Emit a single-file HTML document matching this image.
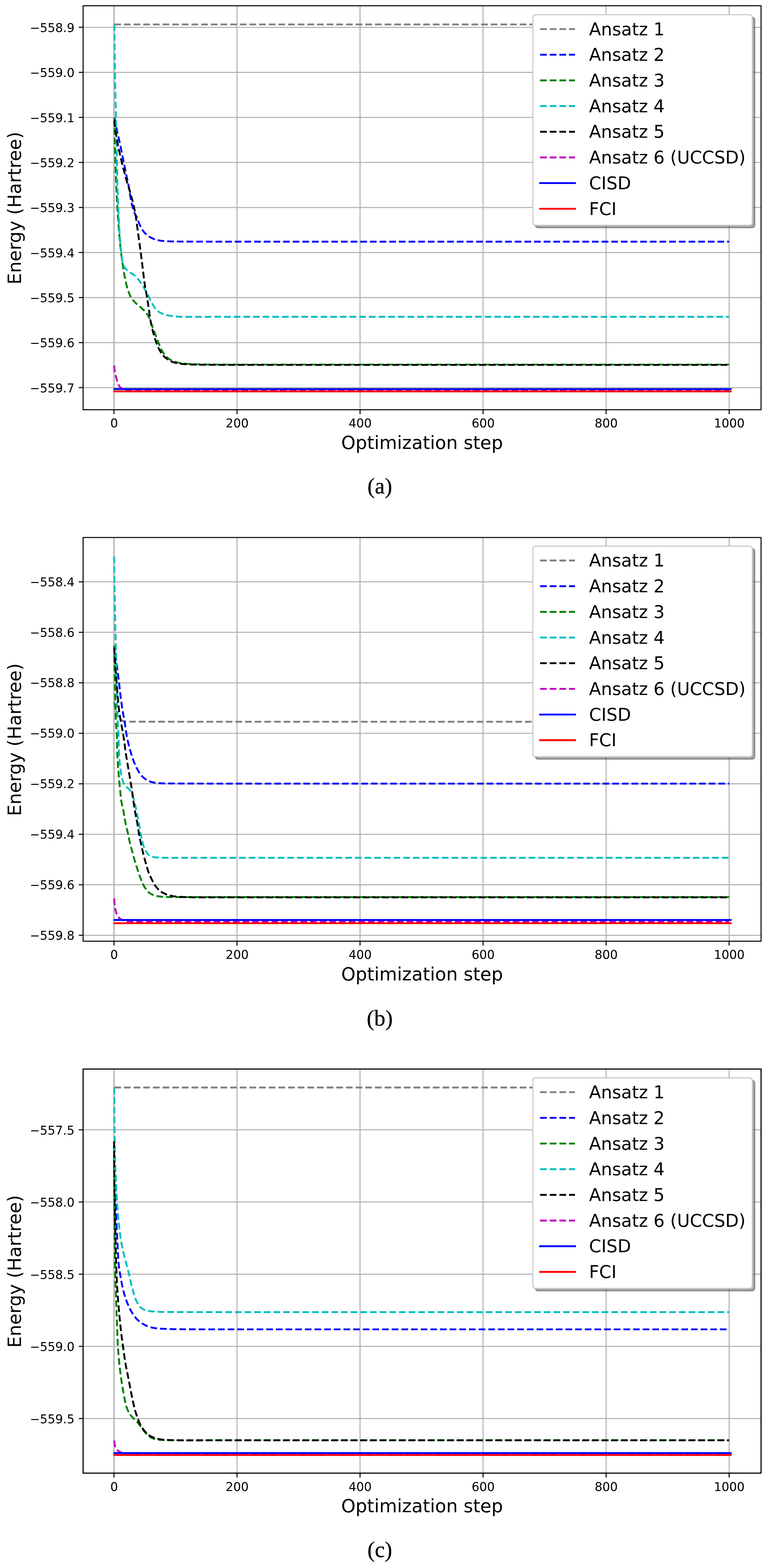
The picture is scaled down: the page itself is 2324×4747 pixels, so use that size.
<!DOCTYPE html>
<html lang="en">
<head>
<meta charset="utf-8">
<title>VQE optimization: energy vs optimization step</title>
<style>
html,body{margin:0;padding:0;background:#fff;}
body{width:2324px;height:4747px;}
svg{display:block;}
text{white-space:pre;}
</style>
</head>
<body>
<svg width="2324" height="4747" viewBox="0 0 2324 4747" role="img" aria-label="Energy versus optimization step for six ansatzes, CISD and FCI, panels (a), (b), (c)">
<rect width="2324" height="4747" fill="#fff"/>
<defs>
<clipPath id="c0"><rect x="251.45" y="17.45" width="2051.55" height="1223.02"/></clipPath>
<clipPath id="c1"><rect x="251.45" y="1627.24" width="2051.55" height="1222.16"/></clipPath>
<clipPath id="c2"><rect x="251.45" y="3236.45" width="2051.55" height="1223.35"/></clipPath>
</defs>
<g id="chart0">
<g stroke="#b0b0b0" stroke-width="3.05" fill="none">
<line x1="344.9" y1="17.45" x2="344.9" y2="1240.47" stroke-width="3.9"/>
<line x1="717.2" y1="17.45" x2="717.2" y2="1240.47"/>
<line x1="1089.5" y1="17.45" x2="1089.5" y2="1240.47"/>
<line x1="1461.8" y1="17.45" x2="1461.8" y2="1240.47"/>
<line x1="1834.1" y1="17.45" x2="1834.1" y2="1240.47"/>
<line x1="2206.4" y1="17.45" x2="2206.4" y2="1240.47"/>
<line x1="251.45" y1="82.75" x2="2303" y2="82.75"/>
<line x1="251.45" y1="219.1" x2="2303" y2="219.1"/>
<line x1="251.45" y1="355.45" x2="2303" y2="355.45"/>
<line x1="251.45" y1="491.8" x2="2303" y2="491.8"/>
<line x1="251.45" y1="628.15" x2="2303" y2="628.15"/>
<line x1="251.45" y1="764.5" x2="2303" y2="764.5"/>
<line x1="251.45" y1="900.85" x2="2303" y2="900.85"/>
<line x1="251.45" y1="1037.2" x2="2303" y2="1037.2"/>
<line x1="251.45" y1="1173.55" x2="2303" y2="1173.55"/>
</g>
<g clip-path="url(#c0)" fill="none" stroke-width="5.65" stroke-linejoin="round">
<path d="M345.9 74L2206.3 74" stroke="#808080" stroke-dasharray="20.2 9.01" stroke-dashoffset="29.14"/>
<path d="M346 355.6C346.89 358.68 347.75 360.88 348.66 364.84C350.25 371.72 351.75 384.02 353.63 393.42C355.48 402.65 357.8 411.53 359.84 420.75C361.94 430.16 364.09 439.78 366.06 449.32C368.02 458.83 369.81 468.83 371.65 477.89C373.32 486.14 375.04 493.72 376.61 501.49C378.14 509.04 379.54 516.87 380.96 523.85C382.22 530.02 383.45 535.45 384.69 541.24C385.93 547.04 387.28 552.83 388.42 558.63C389.55 564.42 390.58 570.33 391.52 576.02C392.43 581.5 393.06 586.44 394.01 592.17C395.09 598.75 396.28 606.75 397.73 613.29C399.02 619.07 400.5 624.19 402.08 629.44C403.61 634.53 405.01 639.47 407.05 644.35C409.14 649.34 412.15 653.65 414.54 659.03C417.32 665.26 419.21 672.78 422.47 679.65C425.99 687.05 430.12 695.6 435.16 701.86C439.77 707.57 445.47 712.34 451.02 716.13C456.09 719.58 461.23 721.97 466.88 724.06C472.83 726.26 478.88 727.71 485.92 728.82C494.42 730.15 505.22 730.33 514.46 730.72C523.17 731.09 528.25 731.07 539.84 731.2C565.04 731.48 619.84 731.53 659.84 731.6C699.84 731.67 739.84 731.6 779.84 731.6C819.84 731.6 859.84 731.6 899.84 731.6C939.84 731.6 979.84 731.6 1019.84 731.6C1059.84 731.6 1099.84 731.6 1139.84 731.6C1179.84 731.6 1219.84 731.6 1259.84 731.6C1299.84 731.6 1339.84 731.6 1379.84 731.6C1419.84 731.6 1459.84 731.6 1499.84 731.6C1539.84 731.6 1579.84 731.6 1619.84 731.6C1659.84 731.6 1699.84 731.6 1739.84 731.6C1779.84 731.6 1819.84 731.6 1859.84 731.6C1899.84 731.6 1939.84 731.6 1979.84 731.6C2019.84 731.6 2061.04 731.6 2099.84 731.6C2136.39 731.6 2170.81 731.6 2206.3 731.6" stroke="#0000ff" stroke-dasharray="20.2 9.01" stroke-dashoffset="28.72"/>
<path d="M346 355.6C346.14 366.96 346.24 378.07 346.43 389.69C346.63 401.84 346.84 414.54 347.17 426.96C347.51 439.38 348 451.8 348.42 464.22C348.83 476.65 349.24 489.07 349.66 501.49C350.07 513.91 350.45 526.34 350.9 538.76C351.36 551.18 351.83 563.6 352.39 576.02C352.95 588.45 353.6 601.44 354.25 613.29C354.85 624.12 355.3 631.98 356.12 644.35C357.33 662.69 359.25 691.72 361.06 712.67C362.6 730.56 364.23 747 366.02 762.36C367.58 775.69 369.13 787.22 370.99 799.63C372.86 812.06 374.73 824.51 377.2 836.89C379.69 849.36 382.42 863.11 385.9 874.16C388.81 883.4 391.64 891.72 395.84 899.01C399.66 905.63 404.38 911.05 409.5 916.4C414.71 921.84 421.41 926.23 426.89 931.3C432.15 936.17 437.72 941.07 441.8 946.21C445.41 950.76 447.82 954.74 450.54 960.27C454.02 967.35 456.88 977.19 460.06 985.65C463.23 994.11 466.4 1002.56 469.57 1011.02C472.74 1019.48 475.82 1028.26 479.09 1036.4C482.17 1044.09 484.84 1051.65 488.6 1058.6C492.27 1065.37 496.08 1072.12 501.29 1077.64C506.61 1083.26 513.16 1088.35 520.33 1091.91C527.87 1095.67 536.69 1097.52 545.7 1099.21C555.6 1101.06 566.36 1101.38 577.42 1102.06C589.52 1102.81 599.25 1103.03 615.49 1103.33C644.31 1103.86 695.49 1103.68 735.49 1103.75C775.49 1103.82 815.49 1103.75 855.49 1103.75C895.49 1103.75 935.49 1103.75 975.49 1103.75C1015.49 1103.75 1055.49 1103.75 1095.49 1103.75C1135.49 1103.75 1175.49 1103.75 1215.49 1103.75C1255.49 1103.75 1295.49 1103.75 1335.49 1103.75C1375.49 1103.75 1415.49 1103.75 1455.49 1103.75C1495.49 1103.75 1535.49 1103.75 1575.49 1103.75C1615.49 1103.75 1655.49 1103.75 1695.49 1103.75C1735.49 1103.75 1775.49 1103.75 1815.49 1103.75C1855.49 1103.75 1895.49 1103.75 1935.49 1103.75C1975.49 1103.75 2015.49 1103.75 2055.49 1103.75C2095.49 1103.75 2148.58 1103.75 2175.49 1103.75C2189.12 1103.75 2196.03 1103.75 2206.3 1103.75" stroke="#008000" stroke-dasharray="20.2 9.01" stroke-dashoffset="26.62"/>
<path d="M346 73.6C346.53 115.73 346.87 156.79 347.6 200C348.36 245.48 350 316.68 350.53 340C350.7 347.77 350.77 349.34 350.9 355.53C351.09 364.7 351.28 378.05 351.52 389.69C351.77 401.84 352.08 414.53 352.39 426.96C352.7 439.38 353.07 451.8 353.39 464.22C353.7 476.65 354.01 489.07 354.25 501.49C354.5 513.91 354.61 526.34 354.88 538.76C355.14 551.18 355.5 563.6 355.87 576.02C356.24 588.45 356.63 601.44 357.11 613.29C357.55 624.12 357.97 631.98 358.6 644.35C359.54 662.69 360.79 691.72 362.3 712.67C363.59 730.56 365.33 748.65 366.77 762.36C367.79 772.07 368.24 779.71 369.75 787.2C371.04 793.57 372.28 799.46 374.72 804.6C376.96 809.29 379.83 813.37 383.42 817.02C387.2 820.87 392.53 823.64 397.08 826.96C401.64 830.27 406.52 832.94 410.75 836.89C415.27 841.13 419.29 846.51 423.17 851.8C427.17 857.26 430.8 863.35 434.35 869.19C437.84 874.94 440.88 880.22 444.29 886.58C448.3 894.08 452.21 903.23 456.71 911.43C461.3 919.8 466.29 930.18 471.61 936.27C475.56 940.79 479.5 943.53 484.04 946.21C488.61 948.92 493.53 950.74 498.94 952.42C505.01 954.31 511.97 955.62 518.82 956.65C526.02 957.73 532.77 958.2 541.18 958.63C552.02 959.19 562.49 959.03 578.45 959.13C607.08 959.32 658.45 959.11 698.45 959.1C738.45 959.09 778.45 959.1 818.45 959.1C858.45 959.1 898.45 959.1 938.45 959.1C978.45 959.1 1018.45 959.1 1058.45 959.1C1098.45 959.1 1138.45 959.1 1178.45 959.1C1218.45 959.1 1258.45 959.1 1298.45 959.1C1338.45 959.1 1378.45 959.1 1418.45 959.1C1458.45 959.1 1498.45 959.1 1538.45 959.1C1578.45 959.1 1618.45 959.1 1658.45 959.1C1698.45 959.1 1738.45 959.1 1778.45 959.1C1818.45 959.1 1858.45 959.1 1898.45 959.1C1938.45 959.1 1978.45 959.1 2018.45 959.1C2058.45 959.1 2104.11 959.1 2138.45 959.1C2164.27 959.1 2183.68 959.1 2206.3 959.1" stroke="#00bfbf" stroke-dasharray="20.2 9.01" stroke-dashoffset="28.94"/>
<path d="M346 363.6C346.47 370.23 346.65 376.98 347.42 383.48C348.17 389.81 349.49 395.9 350.53 402.11C351.56 408.32 352.6 414.53 353.63 420.75C354.67 426.96 355.53 433.08 356.74 439.38C358 445.91 359.56 452.54 361.09 459.25C362.66 466.19 364.4 473.33 366.06 480.37C367.71 487.41 369.32 494.68 371.02 501.49C372.64 507.91 374.34 513.91 375.99 520.12C377.65 526.34 379.28 532.66 380.96 538.76C382.59 544.66 384.18 550.37 385.93 556.15C387.7 561.96 389.86 567.72 391.52 573.54C393.17 579.31 394.29 585.26 395.87 590.93C397.4 596.44 399.32 601.48 400.84 607.08C402.45 613.04 403.84 619.49 405.19 625.71C406.53 631.91 407.78 638.13 408.91 644.35C410.04 650.55 410.83 655.27 411.99 662.98C413.87 675.55 416.42 696.11 418.7 712.67C420.97 729.24 423.46 745.79 425.65 762.36C427.85 778.92 429.79 795.49 431.86 812.05C433.93 828.61 435.65 845.8 438.07 861.74C440.34 876.63 443.68 892.07 445.78 904.76C447.44 914.78 448.6 922.6 449.9 931.72C451.25 941.09 452.23 951.05 453.71 960.27C455.11 969 456.63 977.21 458.47 985.65C460.32 994.13 462.45 1002.6 464.81 1011.02C467.2 1019.52 469.75 1028.3 472.74 1036.4C475.6 1044.12 478.49 1051.65 482.26 1058.6C485.93 1065.37 490.01 1072.25 494.95 1077.64C499.6 1082.71 505.29 1086.99 510.81 1090.33C515.9 1093.41 520.64 1095.48 526.67 1097.3C534.02 1099.53 543.08 1100.7 552.05 1101.74C562 1102.91 573.19 1103.22 583.77 1103.65C594.34 1104.07 601.52 1104.12 615.49 1104.28C642.65 1104.6 695.49 1104.63 735.49 1104.7C775.49 1104.77 815.49 1104.7 855.49 1104.7C895.49 1104.7 935.49 1104.7 975.49 1104.7C1015.49 1104.7 1055.49 1104.7 1095.49 1104.7C1135.49 1104.7 1175.49 1104.7 1215.49 1104.7C1255.49 1104.7 1295.49 1104.7 1335.49 1104.7C1375.49 1104.7 1415.49 1104.7 1455.49 1104.7C1495.49 1104.7 1535.49 1104.7 1575.49 1104.7C1615.49 1104.7 1655.49 1104.7 1695.49 1104.7C1735.49 1104.7 1775.49 1104.7 1815.49 1104.7C1855.49 1104.7 1895.49 1104.7 1935.49 1104.7C1975.49 1104.7 2015.49 1104.7 2055.49 1104.7C2095.49 1104.7 2148.58 1104.7 2175.49 1104.7C2189.12 1104.7 2196.03 1104.7 2206.3 1104.7" stroke="#000000" stroke-dasharray="20.2 9.01" stroke-dashoffset="28.5"/>
<path d="M345.28 1105.23C345.6 1108.4 345.86 1111.54 346.23 1114.74C346.61 1118.04 347.02 1121.45 347.56 1124.74C348.1 1127.96 348.75 1131.05 349.47 1134.25C350.2 1137.55 351.08 1141 351.94 1144.24C352.76 1147.34 353.59 1150.32 354.51 1153.29C355.41 1156.19 356.21 1159.17 357.36 1161.85C358.45 1164.39 359.75 1166.85 361.17 1168.99C362.47 1170.94 363.8 1172.72 365.45 1174.22C367.12 1175.74 369.04 1177.02 371.16 1178.03C373.45 1179.12 376.07 1179.85 378.78 1180.41C381.74 1181.01 383.33 1181.11 388.29 1181.36C405.86 1182.25 468.29 1181.48 508.29 1181.5C548.29 1181.52 588.29 1181.5 628.29 1181.5C668.29 1181.5 708.29 1181.5 748.29 1181.5C788.29 1181.5 828.29 1181.5 868.29 1181.5C908.29 1181.5 948.29 1181.5 988.29 1181.5C1028.29 1181.5 1068.29 1181.5 1108.29 1181.5C1148.29 1181.5 1188.29 1181.5 1228.29 1181.5C1268.29 1181.5 1308.29 1181.5 1348.29 1181.5C1388.29 1181.5 1428.29 1181.5 1468.29 1181.5C1508.29 1181.5 1548.29 1181.5 1588.29 1181.5C1628.29 1181.5 1668.29 1181.5 1708.29 1181.5C1748.29 1181.5 1788.29 1181.5 1828.29 1181.5C1868.29 1181.5 1908.29 1181.5 1948.29 1181.5C1988.29 1181.5 2028.29 1181.5 2068.29 1181.5C2108.29 1181.5 2165.96 1181.5 2188.29 1181.5C2196.95 1181.5 2200.3 1181.5 2206.3 1181.5" stroke="#bf00bf" stroke-dasharray="20.2 9.01" stroke-dashoffset="27.88"/>
<path d="M343.1 1178L2214 1178" stroke="#0000ff" stroke-linecap="butt"/>
<path d="M343.1 1185L2214 1185" stroke="#ff0000" stroke-linecap="butt"/>
</g>
<g stroke="#000" stroke-width="3.05" fill="none">
<line x1="344.9" y1="1240.47" x2="344.9" y2="1253.67"/>
<line x1="717.2" y1="1240.47" x2="717.2" y2="1253.67"/>
<line x1="1089.5" y1="1240.47" x2="1089.5" y2="1253.67"/>
<line x1="1461.8" y1="1240.47" x2="1461.8" y2="1253.67"/>
<line x1="1834.1" y1="1240.47" x2="1834.1" y2="1253.67"/>
<line x1="2206.4" y1="1240.47" x2="2206.4" y2="1253.67"/>
<line x1="238.25" y1="82.75" x2="251.45" y2="82.75"/>
<line x1="238.25" y1="219.1" x2="251.45" y2="219.1"/>
<line x1="238.25" y1="355.45" x2="251.45" y2="355.45"/>
<line x1="238.25" y1="491.8" x2="251.45" y2="491.8"/>
<line x1="238.25" y1="628.15" x2="251.45" y2="628.15"/>
<line x1="238.25" y1="764.5" x2="251.45" y2="764.5"/>
<line x1="238.25" y1="900.85" x2="251.45" y2="900.85"/>
<line x1="238.25" y1="1037.2" x2="251.45" y2="1037.2"/>
<line x1="238.25" y1="1173.55" x2="251.45" y2="1173.55"/>
<rect x="251.45" y="17.45" width="2051.55" height="1223.02" stroke-linejoin="miter" stroke-width="3.05"/>
</g>
<g font-family="'DejaVu Sans','Liberation Sans',sans-serif" font-size="36.6" fill="#000">
<text x="345.3" y="1294.47" text-anchor="middle">0</text>
<text x="717.6" y="1294.47" text-anchor="middle">200</text>
<text x="1089.9" y="1294.47" text-anchor="middle">400</text>
<text x="1462.2" y="1294.47" text-anchor="middle">600</text>
<text x="1834.5" y="1294.47" text-anchor="middle">800</text>
<text x="2206.8" y="1294.47" text-anchor="middle">1000</text>
<text x="225.5" y="96.85" text-anchor="end">−558.9</text>
<text x="225.5" y="233.2" text-anchor="end">−559.0</text>
<text x="225.5" y="369.55" text-anchor="end">−559.1</text>
<text x="225.5" y="505.9" text-anchor="end">−559.2</text>
<text x="225.5" y="642.25" text-anchor="end">−559.3</text>
<text x="225.5" y="778.6" text-anchor="end">−559.4</text>
<text x="225.5" y="914.95" text-anchor="end">−559.5</text>
<text x="225.5" y="1051.3" text-anchor="end">−559.6</text>
<text x="225.5" y="1187.65" text-anchor="end">−559.7</text>
</g>
<g font-family="'DejaVu Sans','Liberation Sans',sans-serif" font-size="55.15" fill="#000" text-anchor="middle">
<text x="1277.22" y="1358.77">Optimization step</text>
<text transform="translate(62.8 629.96) rotate(-90)">Energy (Hartree)</text>
</g>
<g>
<path d="M1629.7 51.9L2274.1 51.9Q2283.9 51.9 2283.9 61.7L2283.9 679.5Q2283.9 689.3 2274.1 689.3L1629.7 689.3Q1619.9 689.3 1619.9 679.5L1619.9 61.7Q1619.9 51.9 1629.7 51.9Z" fill="#4d4d4d" fill-opacity="0.5" stroke="#4d4d4d" stroke-opacity="0.5" stroke-width="3.68"/>
<path d="M1622.3 44.5L2266.7 44.5Q2276.5 44.5 2276.5 54.3L2276.5 672.1Q2276.5 681.9 2266.7 681.9L1622.3 681.9Q1612.5 681.9 1612.5 672.1L1612.5 54.3Q1612.5 44.5 1622.3 44.5Z" fill="#fff" stroke="#cccccc" stroke-width="3.5"/>
<line x1="1634.4" y1="87.96" x2="1740" y2="87.96" stroke="#808080" stroke-width="5.65" stroke-dasharray="20.2 9.01"/>
<text x="1782.6" y="106.51" font-family="'DejaVu Sans','Liberation Sans',sans-serif" font-size="52.9" fill="#000">Ansatz 1</text>
<line x1="1634.4" y1="165.68" x2="1740" y2="165.68" stroke="#0000ff" stroke-width="5.65" stroke-dasharray="20.2 9.01"/>
<text x="1782.6" y="184.23" font-family="'DejaVu Sans','Liberation Sans',sans-serif" font-size="52.9" fill="#000">Ansatz 2</text>
<line x1="1634.4" y1="243.4" x2="1740" y2="243.4" stroke="#008000" stroke-width="5.65" stroke-dasharray="20.2 9.01"/>
<text x="1782.6" y="261.95" font-family="'DejaVu Sans','Liberation Sans',sans-serif" font-size="52.9" fill="#000">Ansatz 3</text>
<line x1="1634.4" y1="321.12" x2="1740" y2="321.12" stroke="#00bfbf" stroke-width="5.65" stroke-dasharray="20.2 9.01"/>
<text x="1782.6" y="339.67" font-family="'DejaVu Sans','Liberation Sans',sans-serif" font-size="52.9" fill="#000">Ansatz 4</text>
<line x1="1634.4" y1="398.84" x2="1740" y2="398.84" stroke="#000000" stroke-width="5.65" stroke-dasharray="20.2 9.01"/>
<text x="1782.6" y="417.39" font-family="'DejaVu Sans','Liberation Sans',sans-serif" font-size="52.9" fill="#000">Ansatz 5</text>
<line x1="1634.4" y1="476.56" x2="1740" y2="476.56" stroke="#bf00bf" stroke-width="5.65" stroke-dasharray="20.2 9.01"/>
<text x="1782.6" y="495.11" font-family="'DejaVu Sans','Liberation Sans',sans-serif" font-size="52.9" fill="#000">Ansatz 6 (UCCSD)</text>
<line x1="1631.58" y1="554.28" x2="1742.83" y2="554.28" stroke="#0000ff" stroke-width="5.65"/>
<text x="1782.6" y="572.83" font-family="'DejaVu Sans','Liberation Sans',sans-serif" font-size="52.9" fill="#000">CISD</text>
<line x1="1631.58" y1="632" x2="1742.83" y2="632" stroke="#ff0000" stroke-width="5.65"/>
<text x="1782.6" y="650.55" font-family="'DejaVu Sans','Liberation Sans',sans-serif" font-size="52.9" fill="#000">FCI</text>
</g>
<text x="1149.2" y="1494.3" font-family="'Liberation Serif','DejaVu Serif',serif" font-size="67.6" fill="#000" stroke="#000" stroke-width="0.5" text-anchor="middle">(a)</text>
</g>
<g id="chart1">
<g stroke="#b0b0b0" stroke-width="3.05" fill="none">
<line x1="344.9" y1="1627.24" x2="344.9" y2="2849.4" stroke-width="3.9"/>
<line x1="717.2" y1="1627.24" x2="717.2" y2="2849.4"/>
<line x1="1089.5" y1="1627.24" x2="1089.5" y2="2849.4"/>
<line x1="1461.8" y1="1627.24" x2="1461.8" y2="2849.4"/>
<line x1="1834.1" y1="1627.24" x2="1834.1" y2="2849.4"/>
<line x1="2206.4" y1="1627.24" x2="2206.4" y2="2849.4"/>
<line x1="251.45" y1="1761.4" x2="2303" y2="1761.4"/>
<line x1="251.45" y1="1914.27" x2="2303" y2="1914.27"/>
<line x1="251.45" y1="2067.14" x2="2303" y2="2067.14"/>
<line x1="251.45" y1="2220.01" x2="2303" y2="2220.01"/>
<line x1="251.45" y1="2372.88" x2="2303" y2="2372.88"/>
<line x1="251.45" y1="2525.75" x2="2303" y2="2525.75"/>
<line x1="251.45" y1="2678.62" x2="2303" y2="2678.62"/>
<line x1="251.45" y1="2831.49" x2="2303" y2="2831.49"/>
</g>
<g clip-path="url(#c1)" fill="none" stroke-width="5.65" stroke-linejoin="round">
<path d="M345.4 2123.35C346.07 2128.74 346.42 2134.26 347.39 2139.5C348.34 2144.6 349.49 2149.5 351.12 2154.41C352.79 2159.44 354.56 2164.91 357.33 2169.32C359.99 2173.56 363.37 2178.01 367.27 2180.5C370.9 2182.81 374.78 2183.45 379.69 2184.22C386.49 2185.29 393.15 2184.6 404.53 2184.72C429.55 2184.99 484.53 2184.91 524.53 2184.95C564.53 2184.99 604.53 2184.95 644.53 2184.95C684.53 2184.95 724.53 2184.95 764.53 2184.95C804.53 2184.95 844.53 2184.95 884.53 2184.95C924.53 2184.95 964.53 2184.95 1004.53 2184.95C1044.53 2184.95 1084.53 2184.95 1124.53 2184.95C1164.53 2184.95 1204.53 2184.95 1244.53 2184.95C1284.53 2184.95 1324.53 2184.95 1364.53 2184.95C1404.53 2184.95 1444.53 2184.95 1484.53 2184.95C1524.53 2184.95 1564.53 2184.95 1604.53 2184.95C1644.53 2184.95 1684.53 2184.95 1724.53 2184.95C1764.53 2184.95 1804.53 2184.95 1844.53 2184.95C1884.53 2184.95 1924.53 2184.95 1964.53 2184.95C2004.53 2184.95 2044.53 2184.95 2084.53 2184.95C2124.53 2184.95 2195.88 2184.95 2204.53 2184.95C2205.58 2184.95 2205.71 2184.95 2206.3 2184.95" stroke="#808080" stroke-dasharray="20.2 9.01" stroke-dashoffset="0.32"/>
<path d="M345.4 1958.14C347.31 1970.56 349.34 1982.97 351.12 1995.4C352.9 2007.82 354.53 2020.46 356.09 2032.67C357.59 2044.46 358.91 2055.47 360.31 2067.45C361.81 2080.26 363.21 2094.65 364.78 2107.2C366.2 2118.54 367.65 2128.96 369.25 2139.5C370.8 2149.65 372.52 2159.18 374.22 2169.32C376 2179.87 378.28 2192.35 379.69 2201.61C380.75 2208.59 381.17 2213.77 382.17 2220C383.22 2226.51 384.46 2233.27 385.9 2239.88C387.35 2246.52 389.07 2252.94 390.87 2259.75C392.78 2267 394.81 2274.69 397.08 2282.11C399.37 2289.59 401.78 2297.3 404.53 2304.47C407.18 2311.35 410.05 2318.02 413.23 2324.35C416.28 2330.42 419.45 2336.6 423.17 2341.74C426.56 2346.43 430.3 2350.58 434.35 2354.16C438.2 2357.57 442.28 2360.51 446.77 2362.86C451.37 2365.26 456.44 2367.01 461.68 2368.32C467.18 2369.71 472.74 2370.23 479.07 2370.81C486.6 2371.49 494.21 2371.58 503.91 2371.8C517.63 2372.11 533.45 2371.97 553.6 2372.05C584.93 2372.17 633.6 2372.34 673.6 2372.4C713.6 2372.46 753.6 2372.4 793.6 2372.4C833.6 2372.4 873.6 2372.4 913.6 2372.4C953.6 2372.4 993.6 2372.4 1033.6 2372.4C1073.6 2372.4 1113.6 2372.4 1153.6 2372.4C1193.6 2372.4 1233.6 2372.4 1273.6 2372.4C1313.6 2372.4 1353.6 2372.4 1393.6 2372.4C1433.6 2372.4 1473.6 2372.4 1513.6 2372.4C1553.6 2372.4 1593.6 2372.4 1633.6 2372.4C1673.6 2372.4 1713.6 2372.4 1753.6 2372.4C1793.6 2372.4 1833.6 2372.4 1873.6 2372.4C1913.6 2372.4 1953.6 2372.4 1993.6 2372.4C2033.6 2372.4 2076.18 2372.4 2113.6 2372.4C2146.49 2372.4 2175.4 2372.4 2206.3 2372.4" stroke="#0000ff" stroke-dasharray="20.2 9.01" stroke-dashoffset="7.51"/>
<path d="M345.4 1951.93C345.65 1970.56 345.75 1988.89 346.15 2007.83C346.56 2027.38 347.36 2047.18 347.89 2067.45C348.44 2088.55 348.83 2110.73 349.38 2132.05C349.91 2152.96 350.11 2177.94 351.12 2194.16C351.77 2204.65 352.99 2209.51 353.6 2220C354.54 2236.22 353.98 2261.85 354.84 2282.11C355.67 2301.57 357.08 2320.65 358.57 2339.25C360 2357.05 361.96 2375.8 363.54 2391.43C364.83 2404.2 365.44 2414.88 367.27 2426.21C369.04 2437.22 372.15 2447.72 374.22 2458.51C376.29 2469.25 377.57 2480.29 379.69 2490.81C381.73 2500.98 384.41 2510.47 386.65 2520.62C388.97 2531.16 390.89 2542.64 393.35 2552.92C395.64 2562.45 398.32 2571.14 400.81 2580.25C403.29 2589.36 405.58 2598.5 408.26 2607.58C410.96 2616.72 413.99 2626.03 416.96 2634.91C419.8 2643.41 422.48 2651.75 425.65 2659.75C428.71 2667.47 431.7 2675.3 435.59 2682.11C439.23 2688.47 443.08 2694.8 448.01 2699.5C452.69 2703.96 458.25 2707.5 464.16 2709.94C470.23 2712.44 477 2713.21 484.04 2714.16C491.82 2715.22 499.39 2715.34 508.88 2715.65C521.61 2716.07 535.09 2715.85 553.6 2715.9C583.93 2715.98 633.6 2715.9 673.6 2715.9C713.6 2715.9 753.6 2715.9 793.6 2715.9C833.6 2715.9 873.6 2715.9 913.6 2715.9C953.6 2715.9 993.6 2715.9 1033.6 2715.9C1073.6 2715.9 1113.6 2715.9 1153.6 2715.9C1193.6 2715.9 1233.6 2715.9 1273.6 2715.9C1313.6 2715.9 1353.6 2715.9 1393.6 2715.9C1433.6 2715.9 1473.6 2715.9 1513.6 2715.9C1553.6 2715.9 1593.6 2715.9 1633.6 2715.9C1673.6 2715.9 1713.6 2715.9 1753.6 2715.9C1793.6 2715.9 1833.6 2715.9 1873.6 2715.9C1913.6 2715.9 1953.6 2715.9 1993.6 2715.9C2033.6 2715.9 2076.18 2715.9 2113.6 2715.9C2146.49 2715.9 2175.4 2715.9 2206.3 2715.9" stroke="#008000" stroke-dasharray="20.2 9.01" stroke-dashoffset="26.85"/>
<path d="M345.4 1682.36C345.65 1708.7 345.72 1735.59 346.15 1761.37C346.56 1786.07 347.36 1809.12 347.89 1833.91C348.44 1859.99 348.85 1891.41 349.38 1914.16C349.77 1931.01 350.22 1943.03 350.62 1958.14C351.05 1974.19 351.5 1990.51 351.86 2007.83C352.26 2026.8 352.37 2049.59 352.86 2067.45C353.25 2082.04 353.91 2093.21 354.35 2107.2C354.84 2122.84 355.09 2140.33 355.59 2156.89C356.09 2173.46 356.61 2195.26 357.33 2206.58C357.7 2212.48 358.26 2214.4 358.57 2220C359.09 2229.31 358.9 2244.85 359.32 2257.27C359.73 2269.69 360.18 2282.57 361.06 2294.53C361.87 2305.7 362.98 2316.53 364.29 2326.83C365.49 2336.34 366.48 2346.16 368.51 2354.16C370.17 2360.7 371.99 2366.58 374.72 2371.55C377.11 2375.91 380.3 2379.21 383.42 2382.73C386.52 2386.24 390.46 2388.53 393.35 2392.67C396.86 2397.68 399.51 2404.38 402.05 2411.3C405.03 2419.43 407.26 2429.29 409.5 2438.63C411.83 2448.32 413.78 2458.96 415.71 2468.45C417.48 2477.1 419.11 2484.48 420.68 2493.29C422.45 2503.22 423.72 2514.88 425.65 2525.09C427.47 2534.71 429.36 2544.5 431.86 2552.92C434.02 2560.18 436.25 2566.8 439.32 2572.8C442.14 2578.3 445.2 2584.12 449.25 2587.7C452.82 2590.85 457.06 2592.51 461.68 2593.91C466.87 2595.49 472.74 2595.65 479.07 2596.15C486.6 2596.74 494.21 2596.75 503.91 2596.89C517.63 2597.1 533.45 2596.89 553.6 2596.89C584.93 2596.9 633.6 2596.9 673.6 2596.9C713.6 2596.9 753.6 2596.9 793.6 2596.9C833.6 2596.9 873.6 2596.9 913.6 2596.9C953.6 2596.9 993.6 2596.9 1033.6 2596.9C1073.6 2596.9 1113.6 2596.9 1153.6 2596.9C1193.6 2596.9 1233.6 2596.9 1273.6 2596.9C1313.6 2596.9 1353.6 2596.9 1393.6 2596.9C1433.6 2596.9 1473.6 2596.9 1513.6 2596.9C1553.6 2596.9 1593.6 2596.9 1633.6 2596.9C1673.6 2596.9 1713.6 2596.9 1753.6 2596.9C1793.6 2596.9 1833.6 2596.9 1873.6 2596.9C1913.6 2596.9 1953.6 2596.9 1993.6 2596.9C2033.6 2596.9 2076.18 2596.9 2113.6 2596.9C2146.49 2596.9 2175.4 2596.9 2206.3 2596.9" stroke="#00bfbf" stroke-dasharray="20.2 9.01" stroke-dashoffset="26.78"/>
<path d="M345.4 1958.14C346.48 1974.7 347.46 1990.51 348.63 2007.83C349.92 2026.8 351.35 2048.25 352.86 2067.45C354.26 2085.43 355.85 2103.7 357.33 2119.63C358.58 2133.1 359.55 2145.75 361.06 2156.89C362.29 2166.04 363.83 2173.46 365.28 2181.74C366.73 2190.02 368.47 2199.57 369.75 2206.58C370.69 2211.74 371.37 2214.84 372.24 2220C373.41 2227.01 374.67 2235.72 375.96 2244.84C377.54 2256.01 379.07 2269.7 380.93 2282.11C382.8 2294.55 385.07 2306.96 387.14 2319.38C389.21 2331.8 391.28 2344.22 393.35 2356.65C395.42 2369.07 397.7 2381.48 399.57 2393.91C401.43 2406.32 402.67 2418.77 404.53 2431.18C406.4 2443.62 408.7 2457.29 410.75 2468.45C412.42 2477.58 414.15 2484.48 415.71 2493.29C417.48 2503.22 418.8 2514.64 420.68 2525.09C422.53 2535.34 424.66 2545.15 426.89 2555.4C429.21 2566.01 431.76 2577.41 434.35 2587.7C436.74 2597.22 439.26 2606.15 441.8 2615.03C444.23 2623.53 446.3 2631.9 449.25 2639.88C452.12 2647.62 455.6 2655.08 459.19 2662.24C462.66 2669.14 466.07 2676.18 470.37 2682.11C474.42 2687.7 478.85 2692.87 484.04 2697.02C489.2 2701.15 495.27 2704.36 501.43 2706.96C507.68 2709.6 514.42 2711.31 521.3 2712.67C528.48 2714.09 535.38 2714.55 543.66 2715.16C553.97 2715.91 563.37 2716.12 578.45 2716.4C606.44 2716.92 658.45 2716.52 698.45 2716.55C738.45 2716.58 778.45 2716.55 818.45 2716.55C858.45 2716.55 898.45 2716.55 938.45 2716.55C978.45 2716.55 1018.45 2716.55 1058.45 2716.55C1098.45 2716.55 1138.45 2716.55 1178.45 2716.55C1218.45 2716.55 1258.45 2716.55 1298.45 2716.55C1338.45 2716.55 1378.45 2716.55 1418.45 2716.55C1458.45 2716.55 1498.45 2716.55 1538.45 2716.55C1578.45 2716.55 1618.45 2716.55 1658.45 2716.55C1698.45 2716.55 1738.45 2716.55 1778.45 2716.55C1818.45 2716.55 1858.45 2716.55 1898.45 2716.55C1938.45 2716.55 1978.45 2716.55 2018.45 2716.55C2058.45 2716.55 2104.11 2716.55 2138.45 2716.55C2164.27 2716.55 2183.68 2716.55 2206.3 2716.55" stroke="#000000" stroke-dasharray="20.2 9.01" stroke-dashoffset="26.25"/>
<path d="M345.4 2716.89C346.07 2725.18 346.35 2733.94 347.39 2741.74C348.33 2748.76 349.25 2755.71 351.12 2761.61C352.73 2766.7 354.5 2771.48 357.33 2775.28C359.98 2778.84 363.54 2781.78 367.27 2783.98C370.99 2786.17 374.75 2787.43 379.69 2788.45C386.47 2789.84 393.14 2789.59 404.53 2789.94C429.54 2790.7 484.53 2790.07 524.53 2790.1C564.53 2790.13 604.53 2790.1 644.53 2790.1C684.53 2790.1 724.53 2790.1 764.53 2790.1C804.53 2790.1 844.53 2790.1 884.53 2790.1C924.53 2790.1 964.53 2790.1 1004.53 2790.1C1044.53 2790.1 1084.53 2790.1 1124.53 2790.1C1164.53 2790.1 1204.53 2790.1 1244.53 2790.1C1284.53 2790.1 1324.53 2790.1 1364.53 2790.1C1404.53 2790.1 1444.53 2790.1 1484.53 2790.1C1524.53 2790.1 1564.53 2790.1 1604.53 2790.1C1644.53 2790.1 1684.53 2790.1 1724.53 2790.1C1764.53 2790.1 1804.53 2790.1 1844.53 2790.1C1884.53 2790.1 1924.53 2790.1 1964.53 2790.1C2004.53 2790.1 2044.53 2790.1 2084.53 2790.1C2124.53 2790.1 2195.88 2790.1 2204.53 2790.1C2205.58 2790.1 2205.71 2790.1 2206.3 2790.1" stroke="#bf00bf" stroke-dasharray="20.2 9.01" stroke-dashoffset="26.25"/>
<path d="M343.1 2785.1L2214 2785.1" stroke="#0000ff" stroke-linecap="butt"/>
<path d="M343.1 2795L2214 2795" stroke="#ff0000" stroke-linecap="butt"/>
</g>
<g stroke="#000" stroke-width="3.05" fill="none">
<line x1="344.9" y1="2849.4" x2="344.9" y2="2862.6"/>
<line x1="717.2" y1="2849.4" x2="717.2" y2="2862.6"/>
<line x1="1089.5" y1="2849.4" x2="1089.5" y2="2862.6"/>
<line x1="1461.8" y1="2849.4" x2="1461.8" y2="2862.6"/>
<line x1="1834.1" y1="2849.4" x2="1834.1" y2="2862.6"/>
<line x1="2206.4" y1="2849.4" x2="2206.4" y2="2862.6"/>
<line x1="238.25" y1="1761.4" x2="251.45" y2="1761.4"/>
<line x1="238.25" y1="1914.27" x2="251.45" y2="1914.27"/>
<line x1="238.25" y1="2067.14" x2="251.45" y2="2067.14"/>
<line x1="238.25" y1="2220.01" x2="251.45" y2="2220.01"/>
<line x1="238.25" y1="2372.88" x2="251.45" y2="2372.88"/>
<line x1="238.25" y1="2525.75" x2="251.45" y2="2525.75"/>
<line x1="238.25" y1="2678.62" x2="251.45" y2="2678.62"/>
<line x1="238.25" y1="2831.49" x2="251.45" y2="2831.49"/>
<rect x="251.45" y="1627.24" width="2051.55" height="1222.16" stroke-linejoin="miter" stroke-width="3.05"/>
</g>
<g font-family="'DejaVu Sans','Liberation Sans',sans-serif" font-size="36.6" fill="#000">
<text x="345.3" y="2903.4" text-anchor="middle">0</text>
<text x="717.6" y="2903.4" text-anchor="middle">200</text>
<text x="1089.9" y="2903.4" text-anchor="middle">400</text>
<text x="1462.2" y="2903.4" text-anchor="middle">600</text>
<text x="1834.5" y="2903.4" text-anchor="middle">800</text>
<text x="2206.8" y="2903.4" text-anchor="middle">1000</text>
<text x="225.5" y="1774.7" text-anchor="end">−558.4</text>
<text x="225.5" y="1927.57" text-anchor="end">−558.6</text>
<text x="225.5" y="2080.44" text-anchor="end">−558.8</text>
<text x="225.5" y="2233.31" text-anchor="end">−559.0</text>
<text x="225.5" y="2386.18" text-anchor="end">−559.2</text>
<text x="225.5" y="2539.05" text-anchor="end">−559.4</text>
<text x="225.5" y="2691.92" text-anchor="end">−559.6</text>
<text x="225.5" y="2844.79" text-anchor="end">−559.8</text>
</g>
<g font-family="'DejaVu Sans','Liberation Sans',sans-serif" font-size="55.15" fill="#000" text-anchor="middle">
<text x="1277.22" y="2967.7">Optimization step</text>
<text transform="translate(62.8 2239.32) rotate(-90)">Energy (Hartree)</text>
</g>
<g>
<path d="M1629.7 1660.84L2274.1 1660.84Q2283.9 1660.84 2283.9 1670.64L2283.9 2288.44Q2283.9 2298.24 2274.1 2298.24L1629.7 2298.24Q1619.9 2298.24 1619.9 2288.44L1619.9 1670.64Q1619.9 1660.84 1629.7 1660.84Z" fill="#4d4d4d" fill-opacity="0.5" stroke="#4d4d4d" stroke-opacity="0.5" stroke-width="3.68"/>
<path d="M1622.3 1653.44L2266.7 1653.44Q2276.5 1653.44 2276.5 1663.24L2276.5 2281.04Q2276.5 2290.84 2266.7 2290.84L1622.3 2290.84Q1612.5 2290.84 1612.5 2281.04L1612.5 1663.24Q1612.5 1653.44 1622.3 1653.44Z" fill="#fff" stroke="#cccccc" stroke-width="3.5"/>
<line x1="1634.4" y1="1696.9" x2="1740" y2="1696.9" stroke="#808080" stroke-width="5.65" stroke-dasharray="20.2 9.01"/>
<text x="1782.6" y="1715.45" font-family="'DejaVu Sans','Liberation Sans',sans-serif" font-size="52.9" fill="#000">Ansatz 1</text>
<line x1="1634.4" y1="1774.62" x2="1740" y2="1774.62" stroke="#0000ff" stroke-width="5.65" stroke-dasharray="20.2 9.01"/>
<text x="1782.6" y="1793.17" font-family="'DejaVu Sans','Liberation Sans',sans-serif" font-size="52.9" fill="#000">Ansatz 2</text>
<line x1="1634.4" y1="1852.34" x2="1740" y2="1852.34" stroke="#008000" stroke-width="5.65" stroke-dasharray="20.2 9.01"/>
<text x="1782.6" y="1870.89" font-family="'DejaVu Sans','Liberation Sans',sans-serif" font-size="52.9" fill="#000">Ansatz 3</text>
<line x1="1634.4" y1="1930.06" x2="1740" y2="1930.06" stroke="#00bfbf" stroke-width="5.65" stroke-dasharray="20.2 9.01"/>
<text x="1782.6" y="1948.61" font-family="'DejaVu Sans','Liberation Sans',sans-serif" font-size="52.9" fill="#000">Ansatz 4</text>
<line x1="1634.4" y1="2007.78" x2="1740" y2="2007.78" stroke="#000000" stroke-width="5.65" stroke-dasharray="20.2 9.01"/>
<text x="1782.6" y="2026.33" font-family="'DejaVu Sans','Liberation Sans',sans-serif" font-size="52.9" fill="#000">Ansatz 5</text>
<line x1="1634.4" y1="2085.5" x2="1740" y2="2085.5" stroke="#bf00bf" stroke-width="5.65" stroke-dasharray="20.2 9.01"/>
<text x="1782.6" y="2104.05" font-family="'DejaVu Sans','Liberation Sans',sans-serif" font-size="52.9" fill="#000">Ansatz 6 (UCCSD)</text>
<line x1="1631.58" y1="2163.22" x2="1742.83" y2="2163.22" stroke="#0000ff" stroke-width="5.65"/>
<text x="1782.6" y="2181.77" font-family="'DejaVu Sans','Liberation Sans',sans-serif" font-size="52.9" fill="#000">CISD</text>
<line x1="1631.58" y1="2240.94" x2="1742.83" y2="2240.94" stroke="#ff0000" stroke-width="5.65"/>
<text x="1782.6" y="2259.49" font-family="'DejaVu Sans','Liberation Sans',sans-serif" font-size="52.9" fill="#000">FCI</text>
</g>
<text x="1149.2" y="3104.9" font-family="'Liberation Serif','DejaVu Serif',serif" font-size="67.6" fill="#000" stroke="#000" stroke-width="0.5" text-anchor="middle">(b)</text>
</g>
<g id="chart2">
<g stroke="#b0b0b0" stroke-width="3.05" fill="none">
<line x1="344.9" y1="3236.45" x2="344.9" y2="4459.8" stroke-width="3.9"/>
<line x1="717.2" y1="3236.45" x2="717.2" y2="4459.8"/>
<line x1="1089.5" y1="3236.45" x2="1089.5" y2="4459.8"/>
<line x1="1461.8" y1="3236.45" x2="1461.8" y2="4459.8"/>
<line x1="1834.1" y1="3236.45" x2="1834.1" y2="4459.8"/>
<line x1="2206.4" y1="3236.45" x2="2206.4" y2="4459.8"/>
<line x1="251.45" y1="3420.5" x2="2303" y2="3420.5"/>
<line x1="251.45" y1="3639" x2="2303" y2="3639"/>
<line x1="251.45" y1="3857.5" x2="2303" y2="3857.5"/>
<line x1="251.45" y1="4076" x2="2303" y2="4076"/>
<line x1="251.45" y1="4294.5" x2="2303" y2="4294.5"/>
</g>
<g clip-path="url(#c2)" fill="none" stroke-width="5.65" stroke-linejoin="round">
<path d="M345.9 3292.4L2206.3 3292.4" stroke="#808080" stroke-dasharray="20.2 9.01" stroke-dashoffset="29.14"/>
<path d="M345.4 3466.27C345.65 3483.66 345.79 3499.51 346.15 3518.45C346.57 3541.08 347.18 3570.65 347.89 3592.98C348.47 3611.22 349.21 3626.11 349.88 3642.67C350.54 3659.23 351.12 3675.8 351.86 3692.36C352.61 3708.93 353.52 3725.49 354.35 3742.05C355.18 3758.61 355.94 3776.26 356.83 3791.74C357.61 3805.33 358.05 3818.28 359.32 3830C360.4 3840.04 361.92 3848.08 363.54 3857.83C365.35 3868.67 367.38 3881.12 369.75 3892.11C371.97 3902.43 374.25 3912.28 377.2 3921.93C380.08 3931.31 383.36 3940.47 387.14 3949.25C390.84 3957.84 394.85 3966.47 399.57 3974.1C404.02 3981.31 408.9 3988.27 414.47 3993.98C419.73 3999.35 425.87 4003.84 431.86 4007.64C437.49 4011.2 443.12 4014.15 449.25 4016.34C455.53 4018.57 462.27 4019.74 469.13 4020.81C476.33 4021.93 483.66 4022.3 491.49 4022.8C500.14 4023.34 509.16 4023.54 518.82 4023.79C529.71 4024.06 538.53 4024.16 553.6 4024.29C581.6 4024.51 633.6 4024.46 673.6 4024.5C713.6 4024.54 753.6 4024.5 793.6 4024.5C833.6 4024.5 873.6 4024.5 913.6 4024.5C953.6 4024.5 993.6 4024.5 1033.6 4024.5C1073.6 4024.5 1113.6 4024.5 1153.6 4024.5C1193.6 4024.5 1233.6 4024.5 1273.6 4024.5C1313.6 4024.5 1353.6 4024.5 1393.6 4024.5C1433.6 4024.5 1473.6 4024.5 1513.6 4024.5C1553.6 4024.5 1593.6 4024.5 1633.6 4024.5C1673.6 4024.5 1713.6 4024.5 1753.6 4024.5C1793.6 4024.5 1833.6 4024.5 1873.6 4024.5C1913.6 4024.5 1953.6 4024.5 1993.6 4024.5C2033.6 4024.5 2076.18 4024.5 2113.6 4024.5C2146.49 4024.5 2175.4 4024.5 2206.3 4024.5" stroke="#0000ff" stroke-dasharray="20.2 9.01" stroke-dashoffset="25.69"/>
<path d="M345.4 3466.27C345.4 3483.66 345.37 3499.51 345.4 3518.45C345.44 3541.08 345.53 3568.14 345.65 3592.98C345.78 3617.83 345.94 3642.67 346.15 3667.52C346.36 3692.36 346.67 3719.71 346.89 3742.05C347.08 3760.29 347.21 3776.26 347.39 3791.74C347.55 3805.33 347.6 3816.42 347.89 3830C348.22 3845.48 348.84 3863.13 349.38 3879.69C349.92 3896.25 350.54 3912.82 351.12 3929.38C351.7 3945.94 352.24 3962.51 352.86 3979.07C353.48 3995.63 354.18 4012.36 354.84 4028.76C355.5 4044.82 355.83 4060.25 356.83 4076.46C357.87 4093.35 359.3 4111.1 361.06 4128.14C362.79 4144.88 364.92 4161.72 367.27 4177.83C369.5 4193.15 372.07 4208.6 374.72 4222.55C377.07 4234.9 378.86 4247.16 382.17 4257.33C384.92 4265.76 388.09 4273.23 392.11 4279.69C395.69 4285.44 400.29 4289.94 404.53 4294.6C408.58 4299.02 413 4302.35 416.96 4307.02C421.32 4312.17 425.13 4318.91 429.38 4324.41C433.42 4329.65 437.49 4334.84 441.8 4339.32C445.8 4343.47 449.62 4347.59 454.22 4350.5C458.75 4353.36 463.55 4355.23 469.13 4356.71C475.73 4358.45 483.07 4358.84 491.49 4359.44C502.32 4360.21 512.8 4360.03 528.76 4360.19C557.39 4360.46 608.76 4360.11 648.76 4360.1C688.76 4360.09 728.76 4360.1 768.76 4360.1C808.76 4360.1 848.76 4360.1 888.76 4360.1C928.76 4360.1 968.76 4360.1 1008.76 4360.1C1048.76 4360.1 1088.76 4360.1 1128.76 4360.1C1168.76 4360.1 1208.76 4360.1 1248.76 4360.1C1288.76 4360.1 1328.76 4360.1 1368.76 4360.1C1408.76 4360.1 1448.76 4360.1 1488.76 4360.1C1528.76 4360.1 1568.76 4360.1 1608.76 4360.1C1648.76 4360.1 1688.76 4360.1 1728.76 4360.1C1768.76 4360.1 1808.76 4360.1 1848.76 4360.1C1888.76 4360.1 1928.76 4360.1 1968.76 4360.1C2008.76 4360.1 2048.96 4360.1 2088.76 4360.1C2128.14 4360.1 2167.12 4360.1 2206.3 4360.1" stroke="#008000" stroke-dasharray="20.2 9.01" stroke-dashoffset="26.19"/>
<path d="M345.4 3292.36C345.65 3318.03 345.9 3343.92 346.15 3369.38C346.4 3394.43 346.48 3419.07 346.89 3443.91C347.31 3468.76 347.88 3494.74 348.63 3518.45C349.32 3540.1 350.24 3561.01 351.12 3580.56C351.9 3598.05 352.57 3613.69 353.6 3630.25C354.64 3646.82 355.98 3664.57 357.33 3679.94C358.49 3693.26 359.61 3704.79 361.06 3717.2C362.51 3729.64 364.08 3742.52 366.02 3754.47C367.84 3765.65 370.02 3776.74 372.24 3786.77C374.19 3795.62 376.46 3803.96 378.45 3811.61C380.16 3818.21 381.79 3823.74 383.42 3830C385.1 3836.49 386.73 3843.25 388.39 3849.88C390.04 3856.5 391.74 3862.92 393.35 3869.75C395.06 3876.97 396.47 3884.68 398.32 3892.11C400.19 3899.59 402.27 3907.05 404.53 3914.47C406.82 3921.95 408.93 3929.99 411.99 3936.83C414.81 3943.14 417.91 3949.53 421.93 3954.22C425.51 3958.41 429.58 3961.7 434.35 3964.16C439.43 3966.79 445.52 3967.98 451.74 3969.13C458.67 3970.42 466.1 3970.66 474.1 3971.12C483.32 3971.64 492.71 3971.7 503.91 3971.86C518.37 3972.08 533.45 3972.04 553.6 3972.11C584.93 3972.23 633.6 3972.35 673.6 3972.4C713.6 3972.45 753.6 3972.4 793.6 3972.4C833.6 3972.4 873.6 3972.4 913.6 3972.4C953.6 3972.4 993.6 3972.4 1033.6 3972.4C1073.6 3972.4 1113.6 3972.4 1153.6 3972.4C1193.6 3972.4 1233.6 3972.4 1273.6 3972.4C1313.6 3972.4 1353.6 3972.4 1393.6 3972.4C1433.6 3972.4 1473.6 3972.4 1513.6 3972.4C1553.6 3972.4 1593.6 3972.4 1633.6 3972.4C1673.6 3972.4 1713.6 3972.4 1753.6 3972.4C1793.6 3972.4 1833.6 3972.4 1873.6 3972.4C1913.6 3972.4 1953.6 3972.4 1993.6 3972.4C2033.6 3972.4 2076.18 3972.4 2113.6 3972.4C2146.49 3972.4 2175.4 3972.4 2206.3 3972.4" stroke="#00bfbf" stroke-dasharray="20.2 9.01" stroke-dashoffset="28.67"/>
<path d="M345.4 3452.61C345.4 3466.27 345.37 3479.28 345.4 3493.6C345.44 3509.37 345.53 3526.73 345.65 3543.29C345.78 3559.86 345.94 3576.42 346.15 3592.98C346.36 3609.54 346.6 3626.11 346.89 3642.67C347.18 3659.23 347.47 3675.8 347.89 3692.36C348.3 3708.92 348.96 3725.49 349.38 3742.05C349.79 3758.61 349.92 3776.26 350.37 3791.74C350.77 3805.33 351.36 3816.41 351.86 3830C352.44 3845.48 352.77 3863.13 353.6 3879.69C354.43 3896.26 355.59 3912.82 356.83 3929.38C358.07 3945.95 359.52 3962.51 361.06 3979.07C362.59 3995.64 364.14 4012.38 366.02 4028.76C367.87 4044.83 370.01 4060.25 372.24 4076.46C374.55 4093.35 376.76 4111.12 379.69 4128.14C382.57 4144.9 386.6 4162.18 389.63 4177.83C392.34 4191.81 394.65 4205.29 397.08 4217.58C399.19 4228.24 401.12 4237.93 403.29 4247.39C405.28 4256.07 407.17 4264.22 409.5 4272.24C411.74 4279.93 414.09 4287.21 416.96 4294.6C419.87 4302.12 423 4310.15 426.89 4316.96C430.53 4323.32 434.89 4329.39 439.32 4334.35C443.23 4338.73 447.18 4342.42 451.74 4345.53C456.29 4348.63 461.2 4351 466.65 4352.98C472.68 4355.17 479.66 4356.63 486.52 4357.7C493.71 4358.83 500.74 4359 508.88 4359.44C518.66 4359.97 527 4360.22 541.18 4360.43C568.5 4360.86 621.18 4360.45 661.18 4360.45C701.18 4360.45 741.18 4360.45 781.18 4360.45C821.18 4360.45 861.18 4360.45 901.18 4360.45C941.18 4360.45 981.18 4360.45 1021.18 4360.45C1061.18 4360.45 1101.18 4360.45 1141.18 4360.45C1181.18 4360.45 1221.18 4360.45 1261.18 4360.45C1301.18 4360.45 1341.18 4360.45 1381.18 4360.45C1421.18 4360.45 1461.18 4360.45 1501.18 4360.45C1541.18 4360.45 1581.18 4360.45 1621.18 4360.45C1661.18 4360.45 1701.18 4360.45 1741.18 4360.45C1781.18 4360.45 1821.18 4360.45 1861.18 4360.45C1901.18 4360.45 1941.18 4360.45 1981.18 4360.45C2021.18 4360.45 2062.5 4360.45 2101.18 4360.45C2137.38 4360.45 2171.26 4360.45 2206.3 4360.45" stroke="#000000" stroke-dasharray="20.2 9.01" stroke-dashoffset="26.58"/>
<path d="M345.4 4359.19C346.23 4364.99 346.35 4371.37 347.89 4376.58C349.24 4381.18 350.97 4385.82 353.6 4389.01C355.93 4391.82 359.19 4393.56 362.3 4395.22C365.4 4396.87 368.28 4398.07 372.24 4398.94C377.66 4400.14 382.68 4400.02 392.11 4400.43C415.24 4401.45 472.11 4401.74 512.11 4402C552.11 4402.26 592.11 4402 632.11 4402C672.11 4402 712.11 4402 752.11 4402C792.11 4402 832.11 4402 872.11 4402C912.11 4402 952.11 4402 992.11 4402C1032.11 4402 1072.11 4402 1112.11 4402C1152.11 4402 1192.11 4402 1232.11 4402C1272.11 4402 1312.11 4402 1352.11 4402C1392.11 4402 1432.11 4402 1472.11 4402C1512.11 4402 1552.11 4402 1592.11 4402C1632.11 4402 1672.11 4402 1712.11 4402C1752.11 4402 1792.11 4402 1832.11 4402C1872.11 4402 1912.11 4402 1952.11 4402C1992.11 4402 2032.11 4402 2072.11 4402C2112.11 4402 2171.64 4402 2192.11 4402C2199.15 4402 2201.57 4402 2206.3 4402" stroke="#bf00bf" stroke-dasharray="20.2 9.01" stroke-dashoffset="27.17"/>
<path d="M343.1 4399L2214 4399" stroke="#0000ff" stroke-linecap="butt"/>
<path d="M343.1 4405L2214 4405" stroke="#ff0000" stroke-linecap="butt"/>
</g>
<g stroke="#000" stroke-width="3.05" fill="none">
<line x1="344.9" y1="4459.8" x2="344.9" y2="4473"/>
<line x1="717.2" y1="4459.8" x2="717.2" y2="4473"/>
<line x1="1089.5" y1="4459.8" x2="1089.5" y2="4473"/>
<line x1="1461.8" y1="4459.8" x2="1461.8" y2="4473"/>
<line x1="1834.1" y1="4459.8" x2="1834.1" y2="4473"/>
<line x1="2206.4" y1="4459.8" x2="2206.4" y2="4473"/>
<line x1="238.25" y1="3420.5" x2="251.45" y2="3420.5"/>
<line x1="238.25" y1="3639" x2="251.45" y2="3639"/>
<line x1="238.25" y1="3857.5" x2="251.45" y2="3857.5"/>
<line x1="238.25" y1="4076" x2="251.45" y2="4076"/>
<line x1="238.25" y1="4294.5" x2="251.45" y2="4294.5"/>
<rect x="251.45" y="3236.45" width="2051.55" height="1223.35" stroke-linejoin="miter" stroke-width="3.4"/>
</g>
<g font-family="'DejaVu Sans','Liberation Sans',sans-serif" font-size="36.6" fill="#000">
<text x="345.3" y="4513.8" text-anchor="middle">0</text>
<text x="717.6" y="4513.8" text-anchor="middle">200</text>
<text x="1089.9" y="4513.8" text-anchor="middle">400</text>
<text x="1462.2" y="4513.8" text-anchor="middle">600</text>
<text x="1834.5" y="4513.8" text-anchor="middle">800</text>
<text x="2206.8" y="4513.8" text-anchor="middle">1000</text>
<text x="225.5" y="3434.5" text-anchor="end">−557.5</text>
<text x="225.5" y="3653" text-anchor="end">−558.0</text>
<text x="225.5" y="3871.5" text-anchor="end">−558.5</text>
<text x="225.5" y="4090" text-anchor="end">−559.0</text>
<text x="225.5" y="4308.5" text-anchor="end">−559.5</text>
</g>
<g font-family="'DejaVu Sans','Liberation Sans',sans-serif" font-size="55.15" fill="#000" text-anchor="middle">
<text x="1277.22" y="4578.1">Optimization step</text>
<text transform="translate(62.8 3849.12) rotate(-90)">Energy (Hartree)</text>
</g>
<g>
<path d="M1629.7 3270.45L2274.1 3270.45Q2283.9 3270.45 2283.9 3280.25L2283.9 3898.05Q2283.9 3907.85 2274.1 3907.85L1629.7 3907.85Q1619.9 3907.85 1619.9 3898.05L1619.9 3280.25Q1619.9 3270.45 1629.7 3270.45Z" fill="#4d4d4d" fill-opacity="0.5" stroke="#4d4d4d" stroke-opacity="0.5" stroke-width="3.68"/>
<path d="M1622.3 3263.05L2266.7 3263.05Q2276.5 3263.05 2276.5 3272.85L2276.5 3890.65Q2276.5 3900.45 2266.7 3900.45L1622.3 3900.45Q1612.5 3900.45 1612.5 3890.65L1612.5 3272.85Q1612.5 3263.05 1622.3 3263.05Z" fill="#fff" stroke="#cccccc" stroke-width="3.5"/>
<line x1="1634.4" y1="3306.51" x2="1740" y2="3306.51" stroke="#808080" stroke-width="5.65" stroke-dasharray="20.2 9.01"/>
<text x="1782.6" y="3325.06" font-family="'DejaVu Sans','Liberation Sans',sans-serif" font-size="52.9" fill="#000">Ansatz 1</text>
<line x1="1634.4" y1="3384.23" x2="1740" y2="3384.23" stroke="#0000ff" stroke-width="5.65" stroke-dasharray="20.2 9.01"/>
<text x="1782.6" y="3402.78" font-family="'DejaVu Sans','Liberation Sans',sans-serif" font-size="52.9" fill="#000">Ansatz 2</text>
<line x1="1634.4" y1="3461.95" x2="1740" y2="3461.95" stroke="#008000" stroke-width="5.65" stroke-dasharray="20.2 9.01"/>
<text x="1782.6" y="3480.5" font-family="'DejaVu Sans','Liberation Sans',sans-serif" font-size="52.9" fill="#000">Ansatz 3</text>
<line x1="1634.4" y1="3539.67" x2="1740" y2="3539.67" stroke="#00bfbf" stroke-width="5.65" stroke-dasharray="20.2 9.01"/>
<text x="1782.6" y="3558.22" font-family="'DejaVu Sans','Liberation Sans',sans-serif" font-size="52.9" fill="#000">Ansatz 4</text>
<line x1="1634.4" y1="3617.39" x2="1740" y2="3617.39" stroke="#000000" stroke-width="5.65" stroke-dasharray="20.2 9.01"/>
<text x="1782.6" y="3635.94" font-family="'DejaVu Sans','Liberation Sans',sans-serif" font-size="52.9" fill="#000">Ansatz 5</text>
<line x1="1634.4" y1="3695.11" x2="1740" y2="3695.11" stroke="#bf00bf" stroke-width="5.65" stroke-dasharray="20.2 9.01"/>
<text x="1782.6" y="3713.66" font-family="'DejaVu Sans','Liberation Sans',sans-serif" font-size="52.9" fill="#000">Ansatz 6 (UCCSD)</text>
<line x1="1631.58" y1="3772.83" x2="1742.83" y2="3772.83" stroke="#0000ff" stroke-width="5.65"/>
<text x="1782.6" y="3791.38" font-family="'DejaVu Sans','Liberation Sans',sans-serif" font-size="52.9" fill="#000">CISD</text>
<line x1="1631.58" y1="3850.55" x2="1742.83" y2="3850.55" stroke="#ff0000" stroke-width="5.65"/>
<text x="1782.6" y="3869.1" font-family="'DejaVu Sans','Liberation Sans',sans-serif" font-size="52.9" fill="#000">FCI</text>
</g>
<text x="1149.2" y="4713.6" font-family="'Liberation Serif','DejaVu Serif',serif" font-size="67.6" fill="#000" stroke="#000" stroke-width="0.5" text-anchor="middle">(c)</text>
</g>
</svg>
</body>
</html>
